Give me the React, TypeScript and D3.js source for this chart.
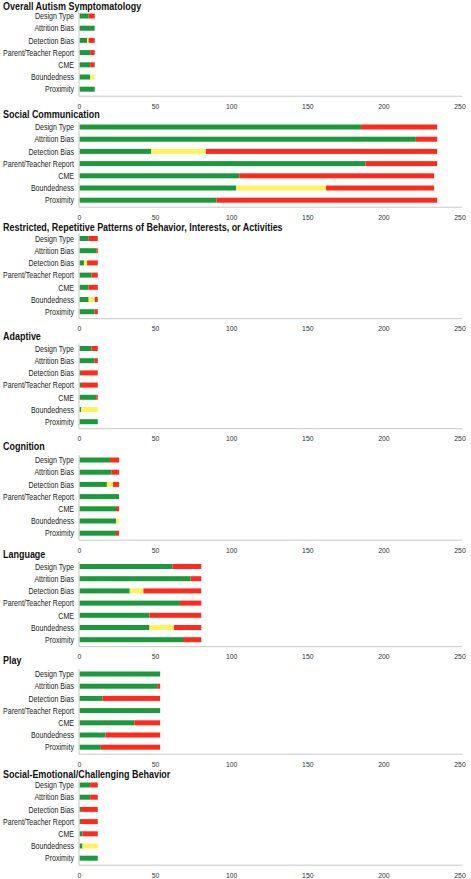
import React, { useEffect } from "react";
import * as d3 from "d3";

const categories = [
  "Design Type",
  "Attrition Bias",
  "Detection Bias",
  "Parent/Teacher Report",
  "CME",
  "Boundedness",
  "Proximity",
];

const panelTitles = [
  "Overall Autism Symptomatology",
  "Social Communication",
  "Restricted, Repetitive Patterns of Behavior, Interests, or Activities",
  "Adaptive",
  "Cognition",
  "Language",
  "Play",
  "Social-Emotional/Challenging Behavior",
];

const xTicks = [0, 50, 100, 150, 200, 250];

// green = low risk, yellow = unclear, red = high risk
const overallGreen = [6, 10, 5, 7, 7, 7, 10];
const overallYellow = [0, 0, 1, 0, 0, 3, 0];
const overallRed = [4, 0, 4, 3, 3, 0, 0];

const socialCommGreen = [185, 221, 47, 188, 105, 103, 90];
const socialCommYellow = [0, 0, 36, 0, 0, 59, 0];
const socialCommRed = [50, 14, 152, 47, 128, 71, 145];

const rrbGreen = [6, 11, 3, 8, 6, 6, 10];
const rrbYellow = [0, 0, 2, 0, 0, 4, 0];
const rrbRed = [6, 1, 7, 4, 6, 2, 2];

const adaptiveGreen = [8, 10, 1, 1, 11, 1, 12];
const adaptiveYellow = [0, 0, 0, 0, 0, 11, 0];
const adaptiveRed = [4, 2, 11, 11, 1, 0, 0];

const cognitionGreen = [20, 21, 18, 26, 24, 24, 24];
const cognitionYellow = [0, 0, 4, 0, 0, 2, 0];
const cognitionRed = [6, 5, 4, 0, 2, 0, 2];

const languageGreen = [61, 73, 33, 66, 46, 46, 68];
const languageYellow = [0, 0, 9, 0, 0, 16, 0];
const languageRed = [19, 7, 38, 14, 34, 18, 12];

const playGreen = [53, 51, 15, 53, 36, 17, 14];
const playYellow = [0, 0, 0, 0, 0, 0, 0];
const playRed = [0, 2, 38, 0, 17, 36, 39];

const socEmoGreen = [7, 7, 1, 1, 2, 2, 12];
const socEmoYellow = [0, 0, 0, 0, 0, 10, 0];
const socEmoRed = [5, 5, 11, 11, 10, 0, 0];

const panelSeries = [
  [overallGreen, overallYellow, overallRed],
  [socialCommGreen, socialCommYellow, socialCommRed],
  [rrbGreen, rrbYellow, rrbRed],
  [adaptiveGreen, adaptiveYellow, adaptiveRed],
  [cognitionGreen, cognitionYellow, cognitionRed],
  [languageGreen, languageYellow, languageRed],
  [playGreen, playYellow, playRed],
  [socEmoGreen, socEmoYellow, socEmoRed],
];

// layout
const W = 471;
const H = 879;
const firstBarY = [16, 127, 238.5, 348.5, 460, 566.5, 674, 785];
const titleY = [6.5, 114, 227.5, 336.5, 446.5, 554, 660.5, 774];
const rowStep = 12.2;
const barH = 5;
const colors = ["#1c9a3b", "#fff25a", "#ff2a1c"];
const sx = 0.84;
const font = "'Liberation Sans', Arial, sans-serif";

export default function App() {
  useEffect(() => {
    document.body.style.margin = "0";
  }, []);

  const x = d3.scaleLinear().domain([0, 250]).range([79.5, 460]);
  const stack = d3.stack<number>().keys(["0", "1", "2"]);

  return (
    <svg width={W} height={H} style={{ display: "block", background: "#fff" }}>
      {panelTitles.map((title, p) => {
        const y0 = firstBarY[p];
        const series = panelSeries[p];
        const rows = categories.map((_, i) => ({
          "0": series[0][i],
          "1": series[1][i],
          "2": series[2][i],
        }));
        const stacked = stack(rows as any);
        const y = d3
          .scalePoint<string>()
          .domain(categories)
          .range([y0, y0 + rowStep * 6]);
        const axisY = y0 + rowStep * 6 + 7;
        return (
          <g key={p}>
            <text
              transform={`translate(3,${titleY[p]}) scale(0.88,1)`}
              fontFamily={font}
              fontWeight="bold"
              fontSize={10.2}
              fill="#111"
              dominantBaseline="central"
            >
              {title}
            </text>
            {categories.map((c) => (
              <text
                key={c}
                transform={`translate(74,${(y(c) as number) + 0.5}) scale(${sx},1)`}
                textAnchor="end"
                fontFamily={font}
                fontSize={8.4}
                fill="#222"
                dominantBaseline="central"
              >
                {c}
              </text>
            ))}
            {stacked.map((s, k) => (
              <g key={k} fill={colors[k]}>
                {s.map((d, i) =>
                  d[1] - d[0] > 0 ? (
                    <rect
                      key={i}
                      x={x(d[0])}
                      width={x(d[1]) - x(d[0])}
                      y={(y(categories[i]) as number) - barH / 2}
                      height={barH}
                    />
                  ) : null
                )}
              </g>
            ))}
            <line
              x1={79}
              x2={79}
              y1={y0 - 5}
              y2={axisY}
              stroke="#c8c8c8"
              strokeWidth={1}
            />
            <line
              x1={79}
              x2={462}
              y1={axisY}
              y2={axisY}
              stroke="#c8c8c8"
              strokeWidth={1}
            />
            {xTicks.map((t) => (
              <text
                key={t}
                transform={`translate(${x(t)},${axisY + 10}) scale(0.88,1)`}
                textAnchor="middle"
                fontFamily={font}
                fontSize={7.8}
                fill="#333"
                dominantBaseline="central"
              >
                {t}
              </text>
            ))}
          </g>
        );
      })}
    </svg>
  );
}
